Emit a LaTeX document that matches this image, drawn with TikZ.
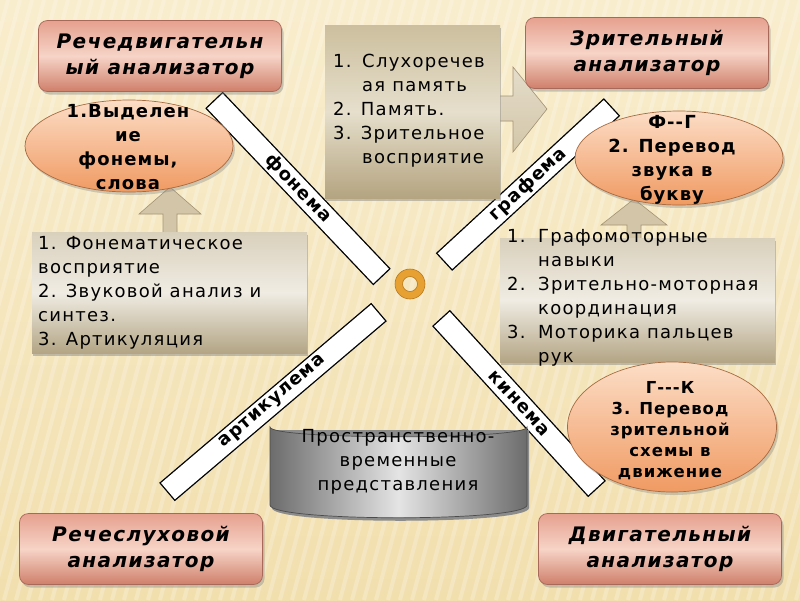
\documentclass[tikz,border=0pt]{standalone}
\usepackage{fontspec}
\setmainfont{DejaVu Sans}
\newfontfamily\lstfont[LetterSpace=7]{DejaVu Sans}
\newfontfamily\hdrfont[LetterSpace=7]{DejaVu Sans}
\newfontfamily\ellfont[LetterSpace=6]{DejaVu Sans}
\usetikzlibrary{shadows,shapes.geometric}
\definecolor{bgtop}{HTML}{F8EDCD}
\definecolor{bgbot}{HTML}{F2DFAE}
\definecolor{hdrtop}{HTML}{E6A08E}
\definecolor{hdrmid}{HTML}{F6D4C7}
\definecolor{hdrbot}{HTML}{CF7F6A}
\definecolor{hdrline}{HTML}{A8685A}
\definecolor{elltop}{HTML}{FCDDC6}
\definecolor{ellbot}{HTML}{F09A62}
\definecolor{elline}{HTML}{A86A40}
\definecolor{lsttop}{HTML}{D9D0BC}
\definecolor{lstmid}{HTML}{F0ECE3}
\definecolor{lstbot}{HTML}{B3A585}
\definecolor{midtop}{HTML}{CCBF9E}
\definecolor{midmid}{HTML}{E6DFCC}
\definecolor{midbot}{HTML}{B4A480}
\definecolor{arrfill}{HTML}{D3C6A8}
\definecolor{arrline}{HTML}{A39374}
\definecolor{cylside}{HTML}{6C6C6C}
\definecolor{cylmid}{HTML}{E4E4E4}
\definecolor{ringor}{HTML}{E7A132}
\definecolor{ringdark}{HTML}{B8781C}
\newcommand\drawband[3]{%
  \draw[line width=24pt, black!30, shift={(2,2)}] (#1) -- (#2);
  \draw[line width=24pt, black] (#1) -- (#2);
  \draw[line width=21.4pt, white, shorten >=1.3pt, shorten <=1.3pt] (#1) -- (#2)
     node[bandlbl, midway, sloped] (#1lbl) {#3};
}
\begin{document}
\begin{tikzpicture}[x=1pt,y=-1pt,
  hdrbox/.style={draw=hdrline, line width=0.7pt, rounded corners=9pt,
    top color=hdrtop, bottom color=hdrbot, middle color=hdrmid,
    minimum width=243pt, minimum height=71pt, inner sep=0pt,
    drop shadow={shadow xshift=2pt, shadow yshift=-3pt, opacity=0.4},
    font=\hdrfont\bfseries\itshape\fontsize{20}{26}\selectfont, align=center},
  ellbox/.style={ellipse, draw=elline, line width=0.7pt,
    top color=elltop, bottom color=ellbot, inner sep=0pt,
    drop shadow={shadow xshift=2pt, shadow yshift=-3pt, opacity=0.35}},
  elltext/.style={font=\ellfont\bfseries\fontsize{18}{24}\selectfont, align=center, inner sep=0pt},
  lstbox/.style={rectangle, top color=lsttop, bottom color=lstbot, middle color=lstmid,
    inner sep=0pt, drop shadow={shadow xshift=1pt, shadow yshift=-3pt, opacity=0.45}},
  midbox/.style={rectangle, top color=midtop, bottom color=midbot, middle color=midmid,
    inner sep=0pt, drop shadow={shadow xshift=1pt, shadow yshift=-3pt, opacity=0.45}},
  lsttext/.style={font=\lstfont\fontsize{18}{24}\selectfont, align=left, inner sep=0pt, anchor=west},
  bandlbl/.style={font=\ellfont\bfseries\fontsize{18}{20}\selectfont, inner sep=0pt, text=black},
  arrshape/.style={fill=arrfill, draw=arrline, line width=0.6pt, line join=miter}
]
\useasboundingbox (0,0) rectangle (800,600);
% background
\fill[top color=bgtop, bottom color=bgbot] (0,0) rectangle (800,600);
\begin{scope}
  \clip (0,0) rectangle (800,600);
  \foreach \i in {-200,-188,...,820} {
    \draw[white, opacity=0.22, line width=4pt] (\i,600) -- (\i+160,0);
  }
\end{scope}

% diagonal bands
\coordinate (fa) at (214,100);  \coordinate (fb) at (382,277);
\coordinate (ga) at (444,262);  \coordinate (gb) at (612,107);
\coordinate (aa) at (167,492);  \coordinate (ab) at (379,312);
\coordinate (ka) at (441,318);  \coordinate (kb) at (597,489);
\drawband{fa}{fb}{фонема}
\drawband{ga}{gb}{графема}
\drawband{aa}{ab}{артикулема}
\drawband{ka}{kb}{кинема}

% arrows
\draw[arrshape] (163,233) -- (163,214) -- (139,214) -- (170,187) -- (201,214) -- (177,214) -- (177,233) -- cycle;
\draw[arrshape] (627,239) -- (627,225) -- (601,225) -- (634,199) -- (667,225) -- (641,225) -- (641,239) -- cycle;
\draw[arrshape, top color=arrfill!60!white, bottom color=arrfill] (495,96) -- (513,96) -- (513,67) -- (547,109) -- (513,152) -- (513,121) -- (495,121) -- cycle;

% header boxes
\node[hdrbox] (rd) at (160,56) {Речедвигательн\\ый анализатор};
\node[hdrbox] (zr) at (647,53) {Зрительный\\анализатор};
\node[hdrbox] (rs) at (141,549) {Речеслуховой\\анализатор};
\node[hdrbox] (dv) at (660,549) {Двигательный\\анализатор};

% list boxes
\node[lstbox, minimum width=275pt, minimum height=121pt] (lb) at (169.5,292.5) {};
\node[lstbox, minimum width=275pt, minimum height=124pt] (rb) at (637.5,300) {};
\node[midbox, minimum width=175pt, minimum height=173pt] (mb) at (412.5,111.5) {};

\node[lsttext] (lbt) at (38,293) {1. Фонематическое\\восприятие\\2. Звуковой анализ и\\синтез.\\3. Артикуляция};
\node[lsttext] (rbt) at (507,298) {\makebox[31pt][l]{1.}Графомоторные\\\hspace*{31pt}навыки\\\makebox[31pt][l]{2.}Зрительно-моторная\\\hspace*{31pt}координация\\\makebox[31pt][l]{3.}Моторика пальцев\\\hspace*{31pt}рук};
\node[lsttext] (mbt) at (333,111) {\makebox[29pt][l]{1.}Слухоречев\\\hspace*{29pt}ая память\\2. Память.\\3. Зрительное\\\hspace*{29pt}восприятие};

% ellipses
\node[ellbox, minimum width=208pt, minimum height=92pt] (e1) at (129,146) {};
\node[elltext] (e1t) at (128,147) {1.Выделен\\ие\\фонемы,\\слова};
\node[ellbox, minimum width=208pt, minimum height=94pt] (e2) at (679,158) {};
\node[elltext] (e2t) at (672,160) {Ф--Г\\2. Перевод\\звука в\\букву};
\node[ellbox, minimum width=209pt, minimum height=130pt] (e3) at (672,427) {};
\node[elltext, font=\ellfont\bfseries\fontsize{16.5}{21}\selectfont] (e3t) at (670,431) {Г---К\\3. Перевод\\зрительной\\схемы в\\движение};

% cylinder
\fill[black!45, shift={(2,3)}] (270,427) -- (270,505) .. controls (270,522) and (527,522) .. (527,505) -- (527,427) -- cycle;
\draw[draw=black!70, line width=0.7pt, left color=cylside, right color=cylside, middle color=cylmid]
  (270,427) -- (270,505) .. controls (270,522) and (527,522) .. (527,505) -- (527,427)
  .. controls (527,440) and (270,440) .. (270,427) -- cycle;
\node[font=\lstfont\fontsize{18}{24}\selectfont, align=center, inner sep=0pt] (cyt) at (398,462) {Пространственно-\\временные\\представления};

% central ring
\fill[ringor, draw=ringdark, line width=0.6pt, even odd rule] (410,284) circle (15) (410,284) circle (7.5);
\end{tikzpicture}
\end{document}
